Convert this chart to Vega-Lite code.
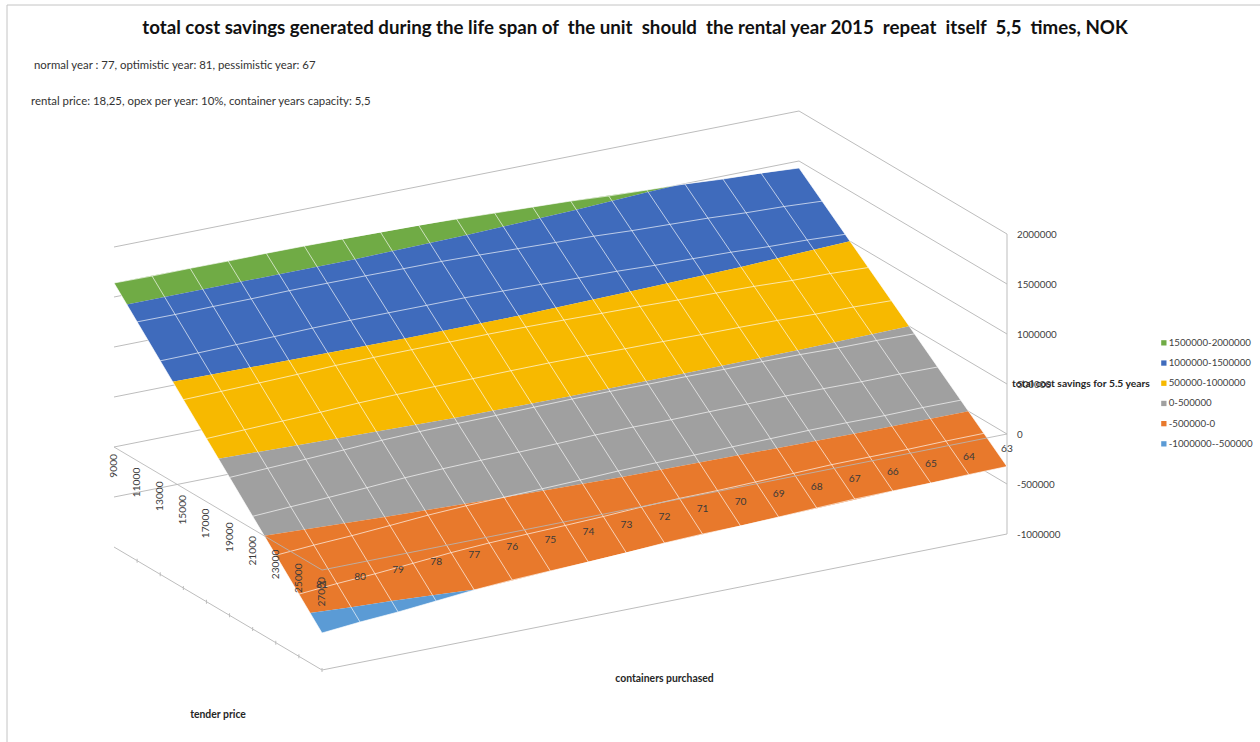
{
"$schema":"https://vega.github.io/schema/vega-lite/v6.json",
"width":1260,"height":702,
"autosize":{"type":"none"},
"padding":{"left":0,"right":0,"top":40,"bottom":0},
"background":"white",
"view":{"stroke":null},
"title":{"text":"total cost savings generated during the life span of\u00a0 the unit\u00a0 should\u00a0 the rental year 2015\u00a0 repeat\u00a0 itself\u00a0 5,5\u00a0 times, NOK","font":"Lato","fontWeight":"bold","fontSize":18.7,"color":"#111111","anchor":"middle","frame":"group","dx":5,"offset":-33},
"datasets":{
"surface":[
{"c":81,"p":27000,"s":-630000},{"c":81,"p":25000,"s":-378000},{"c":81,"p":23000,"s":-126000},{"c":81,"p":21000,"s":127000},{"c":81,"p":19000,"s":379000},{"c":81,"p":17000,"s":631000},{"c":81,"p":15000,"s":883000},{"c":81,"p":13000,"s":1135000},{"c":81,"p":11000,"s":1388000},{"c":81,"p":9000,"s":1640000},
{"c":80,"p":27000,"s":-596000},{"c":80,"p":25000,"s":-348000},{"c":80,"p":23000,"s":-100000},{"c":80,"p":21000,"s":147000},{"c":80,"p":19000,"s":395000},{"c":80,"p":17000,"s":643000},{"c":80,"p":15000,"s":891000},{"c":80,"p":13000,"s":1139000},{"c":80,"p":11000,"s":1386000},{"c":80,"p":9000,"s":1634000},
{"c":79,"p":27000,"s":-571000},{"c":79,"p":25000,"s":-326000},{"c":79,"p":23000,"s":-81000},{"c":79,"p":21000,"s":165000},{"c":79,"p":19000,"s":410000},{"c":79,"p":17000,"s":655000},{"c":79,"p":15000,"s":900000},{"c":79,"p":13000,"s":1146000},{"c":79,"p":11000,"s":1391000},{"c":79,"p":9000,"s":1636000},
{"c":78,"p":27000,"s":-537000},{"c":78,"p":25000,"s":-296000},{"c":78,"p":23000,"s":-55000},{"c":78,"p":21000,"s":186000},{"c":78,"p":19000,"s":427000},{"c":78,"p":17000,"s":668000},{"c":78,"p":15000,"s":910000},{"c":78,"p":13000,"s":1151000},{"c":78,"p":11000,"s":1392000},{"c":78,"p":9000,"s":1633000},
{"c":77,"p":27000,"s":-502000},{"c":77,"p":25000,"s":-265000},{"c":77,"p":23000,"s":-27000},{"c":77,"p":21000,"s":210000},{"c":77,"p":19000,"s":448000},{"c":77,"p":17000,"s":685000},{"c":77,"p":15000,"s":923000},{"c":77,"p":13000,"s":1160000},{"c":77,"p":11000,"s":1398000},{"c":77,"p":9000,"s":1635000},
{"c":76,"p":27000,"s":-478000},{"c":76,"p":25000,"s":-244000},{"c":76,"p":23000,"s":-9000},{"c":76,"p":21000,"s":225000},{"c":76,"p":19000,"s":460000},{"c":76,"p":17000,"s":694000},{"c":76,"p":15000,"s":928000},{"c":76,"p":13000,"s":1163000},{"c":76,"p":11000,"s":1397000},{"c":76,"p":9000,"s":1632000},
{"c":75,"p":27000,"s":-463000},{"c":75,"p":25000,"s":-231000},{"c":75,"p":23000,"s":1000},{"c":75,"p":21000,"s":234000},{"c":75,"p":19000,"s":466000},{"c":75,"p":17000,"s":698000},{"c":75,"p":15000,"s":930000},{"c":75,"p":13000,"s":1162000},{"c":75,"p":11000,"s":1395000},{"c":75,"p":9000,"s":1627000},
{"c":74,"p":27000,"s":-450000},{"c":74,"p":25000,"s":-220000},{"c":74,"p":23000,"s":10000},{"c":74,"p":21000,"s":240000},{"c":74,"p":19000,"s":470000},{"c":74,"p":17000,"s":701000},{"c":74,"p":15000,"s":931000},{"c":74,"p":13000,"s":1161000},{"c":74,"p":11000,"s":1391000},{"c":74,"p":9000,"s":1621000},
{"c":73,"p":27000,"s":-434000},{"c":73,"p":25000,"s":-206000},{"c":73,"p":23000,"s":22000},{"c":73,"p":21000,"s":249000},{"c":73,"p":19000,"s":477000},{"c":73,"p":17000,"s":705000},{"c":73,"p":15000,"s":933000},{"c":73,"p":13000,"s":1161000},{"c":73,"p":11000,"s":1388000},{"c":73,"p":9000,"s":1616000},
{"c":72,"p":27000,"s":-410000},{"c":72,"p":25000,"s":-187000},{"c":72,"p":23000,"s":37000},{"c":72,"p":21000,"s":260000},{"c":72,"p":19000,"s":483000},{"c":72,"p":17000,"s":707000},{"c":72,"p":15000,"s":930000},{"c":72,"p":13000,"s":1153000},{"c":72,"p":11000,"s":1377000},{"c":72,"p":9000,"s":1600000},
{"c":71,"p":27000,"s":-396000},{"c":71,"p":25000,"s":-176000},{"c":71,"p":23000,"s":44000},{"c":71,"p":21000,"s":264000},{"c":71,"p":19000,"s":484000},{"c":71,"p":17000,"s":704000},{"c":71,"p":15000,"s":924000},{"c":71,"p":13000,"s":1144000},{"c":71,"p":11000,"s":1364000},{"c":71,"p":9000,"s":1584000},
{"c":70,"p":27000,"s":-391000},{"c":70,"p":25000,"s":-173000},{"c":70,"p":23000,"s":45000},{"c":70,"p":21000,"s":262000},{"c":70,"p":19000,"s":480000},{"c":70,"p":17000,"s":698000},{"c":70,"p":15000,"s":916000},{"c":70,"p":13000,"s":1133000},{"c":70,"p":11000,"s":1351000},{"c":70,"p":9000,"s":1569000},
{"c":69,"p":27000,"s":-377000},{"c":69,"p":25000,"s":-163000},{"c":69,"p":23000,"s":52000},{"c":69,"p":21000,"s":266000},{"c":69,"p":19000,"s":481000},{"c":69,"p":17000,"s":695000},{"c":69,"p":15000,"s":909000},{"c":69,"p":13000,"s":1124000},{"c":69,"p":11000,"s":1338000},{"c":69,"p":9000,"s":1553000},
{"c":68,"p":27000,"s":-362000},{"c":68,"p":25000,"s":-152000},{"c":68,"p":23000,"s":58000},{"c":68,"p":21000,"s":268000},{"c":68,"p":19000,"s":478000},{"c":68,"p":17000,"s":688000},{"c":68,"p":15000,"s":898000},{"c":68,"p":13000,"s":1108000},{"c":68,"p":11000,"s":1318000},{"c":68,"p":9000,"s":1528000},
{"c":67,"p":27000,"s":-348000},{"c":67,"p":25000,"s":-141000},{"c":67,"p":23000,"s":65000},{"c":67,"p":21000,"s":272000},{"c":67,"p":19000,"s":479000},{"c":67,"p":17000,"s":685000},{"c":67,"p":15000,"s":892000},{"c":67,"p":13000,"s":1099000},{"c":67,"p":11000,"s":1305000},{"c":67,"p":9000,"s":1512000},
{"c":66,"p":27000,"s":-343000},{"c":66,"p":25000,"s":-139000},{"c":66,"p":23000,"s":66000},{"c":66,"p":21000,"s":270000},{"c":66,"p":19000,"s":475000},{"c":66,"p":17000,"s":679000},{"c":66,"p":15000,"s":883000},{"c":66,"p":13000,"s":1088000},{"c":66,"p":11000,"s":1292000},{"c":66,"p":9000,"s":1497000},
{"c":65,"p":27000,"s":-340000},{"c":65,"p":25000,"s":-139000},{"c":65,"p":23000,"s":62000},{"c":65,"p":21000,"s":264000},{"c":65,"p":19000,"s":465000},{"c":65,"p":17000,"s":666000},{"c":65,"p":15000,"s":867000},{"c":65,"p":13000,"s":1069000},{"c":65,"p":11000,"s":1270000},{"c":65,"p":9000,"s":1471000},
{"c":64,"p":27000,"s":-330000},{"c":64,"p":25000,"s":-132000},{"c":64,"p":23000,"s":67000},{"c":64,"p":21000,"s":265000},{"c":64,"p":19000,"s":464000},{"c":64,"p":17000,"s":662000},{"c":64,"p":15000,"s":860000},{"c":64,"p":13000,"s":1059000},{"c":64,"p":11000,"s":1257000},{"c":64,"p":9000,"s":1456000},
{"c":63,"p":27000,"s":-325000},{"c":63,"p":25000,"s":-130000},{"c":63,"p":23000,"s":65000},{"c":63,"p":21000,"s":260000},{"c":63,"p":19000,"s":455000},{"c":63,"p":17000,"s":650000},{"c":63,"p":15000,"s":845000},{"c":63,"p":13000,"s":1040000},{"c":63,"p":11000,"s":1235000},{"c":63,"p":9000,"s":1430000}
],
"bands":[
{"band":"1500000-2000000","n":1,"c":81,"p":9000,"s":1640000},{"band":"1500000-2000000","n":2,"c":76,"p":9000,"s":1632000},{"band":"1500000-2000000","n":3,"c":72,"p":9000,"s":1600000},{"band":"1500000-2000000","n":4,"c":69,"p":9000,"s":1553000},{"band":"1500000-2000000","n":5,"c":67,"p":9000,"s":1512000},{"band":"1500000-2000000","n":6,"c":66.2,"p":9000,"s":1500000},{"band":"1500000-2000000","n":7,"c":67,"p":9117,"s":1500000},{"band":"1500000-2000000","n":8,"c":69,"p":9495,"s":1500000},{"band":"1500000-2000000","n":9,"c":72,"p":9896,"s":1500000},{"band":"1500000-2000000","n":10,"c":75,"p":10094,"s":1500000},{"band":"1500000-2000000","n":11,"c":78,"p":10103,"s":1500000},{"band":"1500000-2000000","n":12,"c":81,"p":10111,"s":1500000},
{"band":"1000000-1500000","n":1,"c":81,"p":10111,"s":1500000},{"band":"1000000-1500000","n":2,"c":78,"p":10103,"s":1500000},{"band":"1000000-1500000","n":3,"c":75,"p":10094,"s":1500000},{"band":"1000000-1500000","n":4,"c":72,"p":9896,"s":1500000},{"band":"1000000-1500000","n":5,"c":69,"p":9495,"s":1500000},{"band":"1000000-1500000","n":6,"c":67,"p":9117,"s":1500000},{"band":"1000000-1500000","n":7,"c":66.2,"p":9000,"s":1500000},{"band":"1000000-1500000","n":8,"c":65,"p":9000,"s":1471000},{"band":"1000000-1500000","n":9,"c":63,"p":9000,"s":1430000},{"band":"1000000-1500000","n":10,"c":63,"p":13410,"s":1000000},{"band":"1000000-1500000","n":11,"c":66,"p":13862,"s":1000000},{"band":"1000000-1500000","n":12,"c":69,"p":14157,"s":1000000},{"band":"1000000-1500000","n":13,"c":72,"p":14373,"s":1000000},{"band":"1000000-1500000","n":14,"c":75,"p":14400,"s":1000000},{"band":"1000000-1500000","n":15,"c":78,"p":14251,"s":1000000},{"band":"1000000-1500000","n":16,"c":81,"p":14074,"s":1000000},
{"band":"500000-1000000","n":1,"c":81,"p":14074,"s":1000000},{"band":"500000-1000000","n":2,"c":78,"p":14251,"s":1000000},{"band":"500000-1000000","n":3,"c":75,"p":14400,"s":1000000},{"band":"500000-1000000","n":4,"c":72,"p":14373,"s":1000000},{"band":"500000-1000000","n":5,"c":69,"p":14157,"s":1000000},{"band":"500000-1000000","n":6,"c":66,"p":13862,"s":1000000},{"band":"500000-1000000","n":7,"c":63,"p":13410,"s":1000000},{"band":"500000-1000000","n":8,"c":63,"p":18538,"s":500000},{"band":"500000-1000000","n":9,"c":66,"p":18752,"s":500000},{"band":"500000-1000000","n":10,"c":69,"p":18821,"s":500000},{"band":"500000-1000000","n":11,"c":72,"p":18851,"s":500000},{"band":"500000-1000000","n":12,"c":75,"p":18706,"s":500000},{"band":"500000-1000000","n":13,"c":78,"p":18398,"s":500000},{"band":"500000-1000000","n":14,"c":81,"p":18040,"s":500000},
{"band":"0-500000","n":1,"c":81,"p":18040,"s":500000},{"band":"0-500000","n":2,"c":78,"p":18398,"s":500000},{"band":"0-500000","n":3,"c":75,"p":18706,"s":500000},{"band":"0-500000","n":4,"c":72,"p":18851,"s":500000},{"band":"0-500000","n":5,"c":69,"p":18821,"s":500000},{"band":"0-500000","n":6,"c":66,"p":18752,"s":500000},{"band":"0-500000","n":7,"c":63,"p":18538,"s":500000},{"band":"0-500000","n":8,"c":63,"p":23670,"s":0},{"band":"0-500000","n":9,"c":66,"p":23645,"s":0},{"band":"0-500000","n":10,"c":69,"p":23490,"s":0},{"band":"0-500000","n":11,"c":72,"p":23328,"s":0},{"band":"0-500000","n":12,"c":75,"p":23013,"s":0},{"band":"0-500000","n":13,"c":78,"p":22545,"s":0},{"band":"0-500000","n":14,"c":81,"p":22005,"s":0},
{"band":"-500000-0","n":1,"c":81,"p":22005,"s":0},{"band":"-500000-0","n":2,"c":78,"p":22545,"s":0},{"band":"-500000-0","n":3,"c":75,"p":23013,"s":0},{"band":"-500000-0","n":4,"c":72,"p":23328,"s":0},{"band":"-500000-0","n":5,"c":69,"p":23490,"s":0},{"band":"-500000-0","n":6,"c":66,"p":23645,"s":0},{"band":"-500000-0","n":7,"c":63,"p":23670,"s":0},{"band":"-500000-0","n":8,"c":63,"p":27000,"s":-325000},{"band":"-500000-0","n":9,"c":66,"p":27000,"s":-343000},{"band":"-500000-0","n":10,"c":69,"p":27000,"s":-377000},{"band":"-500000-0","n":11,"c":72,"p":27000,"s":-410000},{"band":"-500000-0","n":12,"c":75,"p":27000,"s":-463000},{"band":"-500000-0","n":13,"c":76.93,"p":27000,"s":-500000},{"band":"-500000-0","n":14,"c":78,"p":26693,"s":-500000},{"band":"-500000-0","n":15,"c":79,"p":26424,"s":-500000},{"band":"-500000-0","n":16,"c":80,"p":26226,"s":-500000},{"band":"-500000-0","n":17,"c":81,"p":25969,"s":-500000},
{"band":"-1000000--500000","n":1,"c":81,"p":25969,"s":-500000},{"band":"-1000000--500000","n":2,"c":80,"p":26226,"s":-500000},{"band":"-1000000--500000","n":3,"c":79,"p":26424,"s":-500000},{"band":"-1000000--500000","n":4,"c":78,"p":26693,"s":-500000},{"band":"-1000000--500000","n":5,"c":76.93,"p":27000,"s":-500000},{"band":"-1000000--500000","n":6,"c":78,"p":27000,"s":-537000},{"band":"-1000000--500000","n":7,"c":79,"p":27000,"s":-571000},{"band":"-1000000--500000","n":8,"c":80,"p":27000,"s":-596000},{"band":"-1000000--500000","n":9,"c":81,"p":27000,"s":-630000}
],
"walls":[
{"z":2000000,"n":1,"c":81,"p":9000,"s":2000000},{"z":2000000,"n":2,"c":63,"p":9000,"s":2000000},{"z":2000000,"n":3,"c":63,"p":27000,"s":2000000},
{"z":1500000,"n":1,"c":81,"p":9000,"s":1500000},{"z":1500000,"n":2,"c":63,"p":9000,"s":1500000},{"z":1500000,"n":3,"c":63,"p":27000,"s":1500000},
{"z":1000000,"n":1,"c":81,"p":9000,"s":1000000},{"z":1000000,"n":2,"c":63,"p":9000,"s":1000000},{"z":1000000,"n":3,"c":63,"p":27000,"s":1000000},
{"z":500000,"n":1,"c":81,"p":9000,"s":500000},{"z":500000,"n":2,"c":63,"p":9000,"s":500000},{"z":500000,"n":3,"c":63,"p":27000,"s":500000},
{"z":0,"n":1,"c":81,"p":9000,"s":0},{"z":0,"n":2,"c":63,"p":9000,"s":0},{"z":0,"n":3,"c":63,"p":27000,"s":0},
{"z":-500000,"n":1,"c":81,"p":9000,"s":-500000},{"z":-500000,"n":2,"c":63,"p":9000,"s":-500000},{"z":-500000,"n":3,"c":63,"p":27000,"s":-500000},
{"z":-1000000,"n":1,"c":81,"p":9000,"s":-1000000},{"z":-1000000,"n":2,"c":81,"p":27000,"s":-1000000},{"z":-1000000,"n":3,"c":63,"p":27000,"s":-1000000},
{"z":9,"n":1,"c":63,"p":27000,"s":2000000},{"z":9,"n":2,"c":63,"p":27000,"s":-1000000}
],
"axisPlane":[
{"n":1,"c":81,"p":9000,"s":0},{"n":2,"c":81,"p":27000,"s":0},{"n":3,"c":63,"p":27000,"s":0}
],
"priceAxis":[
{"c":81,"p":9000,"s":0},{"c":81,"p":11000,"s":0},{"c":81,"p":13000,"s":0},{"c":81,"p":15000,"s":0},{"c":81,"p":17000,"s":0},{"c":81,"p":19000,"s":0},{"c":81,"p":21000,"s":0},{"c":81,"p":23000,"s":0},{"c":81,"p":25000,"s":0},{"c":81,"p":27000,"s":0}
],
"floorTicks":[
{"c":81,"p":11000,"s":-1000000},{"c":81,"p":13000,"s":-1000000},{"c":81,"p":15000,"s":-1000000},{"c":81,"p":17000,"s":-1000000},{"c":81,"p":19000,"s":-1000000},{"c":81,"p":21000,"s":-1000000},{"c":81,"p":23000,"s":-1000000},{"c":81,"p":25000,"s":-1000000},{"c":81,"p":27000,"s":-1000000}
],
"containerAxis":[
{"c":81,"p":27000,"s":0},{"c":80,"p":27000,"s":0},{"c":79,"p":27000,"s":0},{"c":78,"p":27000,"s":0},{"c":77,"p":27000,"s":0},{"c":76,"p":27000,"s":0},{"c":75,"p":27000,"s":0},{"c":74,"p":27000,"s":0},{"c":73,"p":27000,"s":0},{"c":72,"p":27000,"s":0},{"c":71,"p":27000,"s":0},{"c":70,"p":27000,"s":0},{"c":69,"p":27000,"s":0},{"c":68,"p":27000,"s":0},{"c":67,"p":27000,"s":0},{"c":66,"p":27000,"s":0},{"c":65,"p":27000,"s":0},{"c":64,"p":27000,"s":0},{"c":63,"p":27000,"s":0}
],
"savingsAxis":[
{"c":63,"p":27000,"s":2000000},{"c":63,"p":27000,"s":1500000},{"c":63,"p":27000,"s":1000000},{"c":63,"p":27000,"s":500000},{"c":63,"p":27000,"s":0},{"c":63,"p":27000,"s":-500000},{"c":63,"p":27000,"s":-1000000}
]
},
"encoding":{
"x":{"field":"sx","type":"quantitative","axis":null,"scale":{"domain":[0,1260],"nice":false,"zero":false}},
"y":{"field":"sy","type":"quantitative","axis":null,"scale":{"domain":[40,742],"nice":false,"zero":false,"reverse":true}}
},
"layer":[
{"data":{"name":"walls"},
 "transform":[{"calculate":"322+685*(81-datum.c)/18-208*(27000-datum.p)/18000","as":"sx"},{"calculate":"670-136*(81-datum.c)/18-123*(27000-datum.p)/18000-(datum.s+1000000)/10000","as":"sy"}],
 "mark":{"type":"line","stroke":"#bdbdbd","strokeWidth":1,"interpolate":"linear"},
 "encoding":{"detail":{"field":"z","type":"nominal"},"order":{"field":"n","type":"quantitative"}}},
{"data":{"name":"bands"},
 "transform":[{"calculate":"322+685*(81-datum.c)/18-208*(27000-datum.p)/18000","as":"sx"},{"calculate":"670-136*(81-datum.c)/18-123*(27000-datum.p)/18000-(datum.s+1000000)/10000","as":"sy"}],
 "mark":{"type":"line","filled":true,"strokeWidth":0},
 "encoding":{"order":{"field":"n","type":"quantitative"},
  "color":{"field":"band","type":"nominal",
   "scale":{"domain":["1500000-2000000","1000000-1500000","500000-1000000","0-500000","-500000-0","-1000000--500000"],"range":["#70AB45","#3F6BBC","#F7B900","#A0A0A0","#E8792C","#5B9BD5"]},
   "legend":{"title":null,"orient":"none","legendX":1159,"legendY":298,"symbolType":"square","symbolSize":28,"symbolStrokeWidth":0,"labelFont":"Lato","labelFontSize":9.7,"labelColor":"#404040","rowPadding":9.2,"labelOffset":0,"labelLimit":200}}}},
{"data":{"name":"surface"},
 "transform":[{"calculate":"322+685*(81-datum.c)/18-208*(27000-datum.p)/18000","as":"sx"},{"calculate":"670-136*(81-datum.c)/18-123*(27000-datum.p)/18000-(datum.s+1000000)/10000","as":"sy"}],
 "mark":{"type":"line","stroke":"#ffffff","strokeOpacity":0.65,"strokeWidth":1},
 "encoding":{"detail":{"field":"c","type":"nominal"},"order":{"field":"p","type":"quantitative"}}},
{"data":{"name":"surface"},
 "transform":[{"calculate":"322+685*(81-datum.c)/18-208*(27000-datum.p)/18000","as":"sx"},{"calculate":"670-136*(81-datum.c)/18-123*(27000-datum.p)/18000-(datum.s+1000000)/10000","as":"sy"}],
 "mark":{"type":"line","stroke":"#ffffff","strokeOpacity":0.65,"strokeWidth":1},
 "encoding":{"detail":{"field":"p","type":"nominal"},"order":{"field":"c","type":"quantitative"}}},
{"data":{"name":"axisPlane"},
 "transform":[{"calculate":"322+685*(81-datum.c)/18-208*(27000-datum.p)/18000","as":"sx"},{"calculate":"670-136*(81-datum.c)/18-123*(27000-datum.p)/18000-(datum.s+1000000)/10000","as":"sy"}],
 "mark":{"type":"line","stroke":"#b5b5b5","strokeOpacity":0.85,"strokeWidth":1},
 "encoding":{"order":{"field":"n","type":"quantitative"}}},
{"data":{"name":"floorTicks"},
 "transform":[{"calculate":"322+685*(81-datum.c)/18-208*(27000-datum.p)/18000","as":"sx"},{"calculate":"670-136*(81-datum.c)/18-123*(27000-datum.p)/18000-(datum.s+1000000)/10000","as":"sy"}],
 "mark":{"type":"tick","orient":"vertical","size":4,"thickness":1,"color":"#bdbdbd","opacity":1}},
{"data":{"name":"savingsAxis"},
 "transform":[{"calculate":"322+685*(81-datum.c)/18-208*(27000-datum.p)/18000","as":"sx"},{"calculate":"670-136*(81-datum.c)/18-123*(27000-datum.p)/18000-(datum.s+1000000)/10000","as":"sy"}],
 "mark":{"type":"text","font":"Lato","fontSize":9.8,"color":"#404040","align":"left","baseline":"middle","dx":10,"dy":1},
 "encoding":{"text":{"field":"s","type":"nominal"}}},
{"data":{"name":"containerAxis"},
 "transform":[{"calculate":"322+685*(81-datum.c)/18-208*(27000-datum.p)/18000","as":"sx"},{"calculate":"670-136*(81-datum.c)/18-123*(27000-datum.p)/18000-(datum.s+1000000)/10000","as":"sy"}],
 "mark":{"type":"text","font":"Lato","fontSize":10.2,"color":"#3a3a3a","align":"center","baseline":"middle","dy":15},
 "encoding":{"text":{"field":"c","type":"nominal"}}},
{"data":{"name":"priceAxis"},
 "transform":[{"calculate":"322+685*(81-datum.c)/18-208*(27000-datum.p)/18000","as":"sx"},{"calculate":"670-136*(81-datum.c)/18-123*(27000-datum.p)/18000-(datum.s+1000000)/10000","as":"sy"}],
 "mark":{"type":"text","font":"Lato","fontSize":10.2,"color":"#3a3a3a","align":"right","baseline":"middle","angle":270,"dx":-7},
 "encoding":{"text":{"field":"p","type":"nominal"}}},
{"data":{"values":[{"label":"containers purchased","c":72,"p":27000,"s":-1000000}]},
 "transform":[{"calculate":"322+685*(81-datum.c)/18-208*(27000-datum.p)/18000","as":"sx"},{"calculate":"670-136*(81-datum.c)/18-123*(27000-datum.p)/18000-(datum.s+1000000)/10000","as":"sy"}],
 "mark":{"type":"text","font":"Lato","fontWeight":"bold","fontSize":10.4,"color":"#262626","align":"center","baseline":"middle","dy":77},
 "encoding":{"text":{"field":"label","type":"nominal"}}},
{"data":{"values":[{"label":"tender price","c":81,"p":18000,"s":-1000000}]},
 "transform":[{"calculate":"322+685*(81-datum.c)/18-208*(27000-datum.p)/18000","as":"sx"},{"calculate":"670-136*(81-datum.c)/18-123*(27000-datum.p)/18000-(datum.s+1000000)/10000","as":"sy"}],
 "mark":{"type":"text","font":"Lato","fontWeight":"bold","fontSize":10.4,"color":"#262626","align":"center","baseline":"middle","dy":106},
 "encoding":{"text":{"field":"label","type":"nominal"}}},
{"data":{"values":[{"label":"total cost savings for 5.5 years","c":63,"p":27000,"s":500000}]},
 "transform":[{"calculate":"322+685*(81-datum.c)/18-208*(27000-datum.p)/18000","as":"sx"},{"calculate":"670-136*(81-datum.c)/18-123*(27000-datum.p)/18000-(datum.s+1000000)/10000","as":"sy"}],
 "mark":{"type":"text","font":"Lato","fontWeight":"bold","fontSize":10.3,"color":"#262626","align":"left","baseline":"middle","dx":5},
 "encoding":{"text":{"field":"label","type":"nominal"}}},
{"data":{"values":[{"note":"normal year : 77, optimistic year: 81, pessimistic year: 67"}]},
 "mark":{"type":"text","font":"Lato","fontSize":11.4,"color":"#333333","align":"left","baseline":"middle"},
 "encoding":{"x":{"value":34},"y":{"value":26},"text":{"field":"note","type":"nominal"}}},
{"data":{"values":[{"note":"rental price: 18,25, opex per year: 10%, container years capacity: 5,5"}]},
 "mark":{"type":"text","font":"Lato","fontSize":11.4,"color":"#333333","align":"left","baseline":"middle"},
 "encoding":{"x":{"value":31},"y":{"value":62},"text":{"field":"note","type":"nominal"}}},
{"data":{"values":[{"edge":"frame left"}]},
 "mark":{"type":"rule","stroke":"#c4c4c4","strokeWidth":1},
 "encoding":{"x":{"value":7},"y":{"value":-35},"y2":{"value":702}}},
{"data":{"values":[{"edge":"frame top"}]},
 "mark":{"type":"rule","stroke":"#c4c4c4","strokeWidth":1},
 "encoding":{"x":{"value":7},"x2":{"value":1260},"y":{"value":-35}}}
]
}
